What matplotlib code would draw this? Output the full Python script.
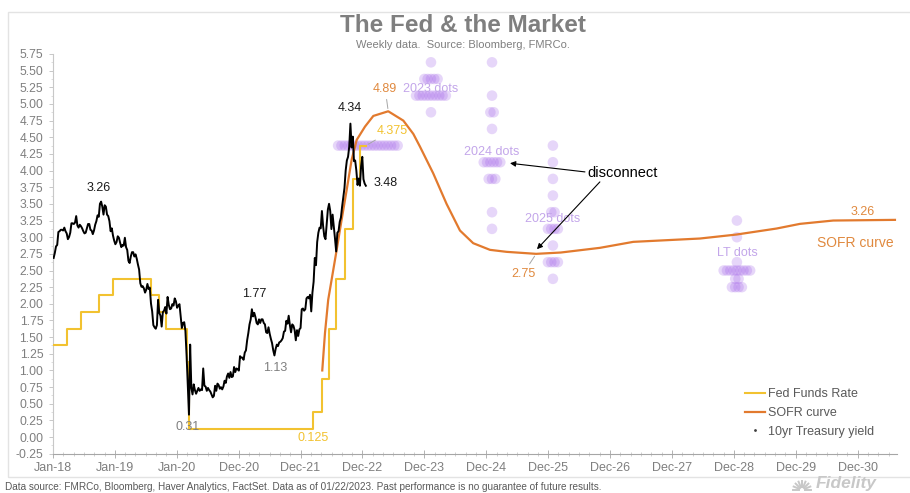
import numpy as np
import pandas as pd
import matplotlib
matplotlib.use("Agg")
import matplotlib.pyplot as plt
import matplotlib.dates as mdates
from matplotlib.lines import Line2D
from matplotlib.patches import Rectangle
from matplotlib.ticker import FixedLocator, MultipleLocator, FormatStrFormatter

plt.rcParams['font.family'] = ['Liberation Sans', 'DejaVu Sans']

# ---------------------------------------------------------------- data
# 10-year Treasury yield, weekly (Friday), %
ust_2018 = [2.48, 2.55, 2.64, 2.66, 2.84, 2.85, 2.87, 2.87, 2.86, 2.90, 2.85, 2.82, 2.74,
            2.77, 2.83, 2.96, 2.96, 2.95, 2.97, 3.06, 2.93, 2.90, 2.94, 2.92, 2.89, 2.85,
            2.82, 2.83, 2.89, 2.95, 2.95, 2.87, 2.86, 2.81, 2.86, 2.94, 2.99, 3.07, 3.05,
            3.23, 3.26, 3.19, 3.08, 3.21, 3.19, 3.08, 3.06, 2.99, 2.85, 2.89, 2.79, 2.72]
ust_2019 = [2.67, 2.70, 2.78, 2.76, 2.69, 2.63, 2.66, 2.65, 2.76, 2.63, 2.59, 2.44, 2.41,
            2.50, 2.56, 2.56, 2.50, 2.53, 2.47, 2.39, 2.32, 2.13, 2.08, 2.09, 2.06, 2.00,
            2.04, 2.12, 2.05, 2.07, 1.85, 1.74, 1.55, 1.52, 1.50, 1.55, 1.90, 1.72, 1.68,
            1.53, 1.73, 1.75, 1.80, 1.71, 1.94, 1.83, 1.77, 1.78, 1.84, 1.82, 1.92, 1.88]
ust_2020 = [1.79, 1.82, 1.84, 1.68, 1.51, 1.58, 1.59, 1.47, 1.13, 0.71, 0.31, 1.28, 0.68,
            0.59, 0.73, 0.65, 0.60, 0.64, 0.68, 0.64, 0.66, 0.65, 0.95, 0.71, 0.70, 0.64,
            0.68, 0.65, 0.63, 0.59, 0.55, 0.57, 0.71, 0.64, 0.74, 0.72, 0.67, 0.69, 0.66,
            0.70, 0.78, 0.75, 0.84, 0.88, 0.82, 0.90, 0.83, 0.84, 0.97, 0.90, 0.95, 0.94]
ust_2021 = [0.92, 1.12, 1.10, 1.10, 1.07, 1.17, 1.20, 1.34, 1.44, 1.56, 1.63, 1.77, 1.67,
            1.72, 1.66, 1.58, 1.56, 1.63, 1.58, 1.63, 1.63, 1.58, 1.56, 1.45, 1.44, 1.52,
            1.43, 1.36, 1.30, 1.20, 1.13, 1.22, 1.28, 1.26, 1.31, 1.32, 1.34, 1.37, 1.46,
            1.47, 1.61, 1.57, 1.68, 1.55, 1.45, 1.56, 1.54, 1.48, 1.34, 1.48, 1.40, 1.49, 1.51]
ust_2022 = [1.77, 1.78, 1.75, 1.77, 1.92, 1.94, 1.92, 1.97, 1.74, 2.00, 2.15, 2.48,
            2.38, 2.70, 2.83, 2.90, 2.89, 3.13, 2.92, 2.78, 2.74, 2.94, 3.15, 3.23, 3.13,
            2.88, 3.08, 2.92, 2.75, 2.57, 2.83, 2.85, 2.98, 3.04, 3.19, 3.32, 3.45, 3.69,
            3.83, 3.88, 4.02, 4.34, 4.01, 4.16, 3.82, 3.83, 3.69, 3.49, 3.58, 3.48, 3.75, 3.88]
ust_2023 = [3.57, 3.51, 3.48]
ust_start = "2018-01-05"

# Fed funds target range midpoint, %
fed_dates = ["2018-01-01", "2018-03-22", "2018-06-14", "2018-09-27", "2018-12-20",
             "2019-08-01", "2019-09-19", "2019-10-31", "2020-03-04", "2020-03-16",
             "2022-03-17", "2022-05-05", "2022-06-16", "2022-07-28", "2022-09-22",
             "2022-11-03", "2022-12-15", "2023-01-20"]
fed_rates = [1.375, 1.625, 1.875, 2.125, 2.375, 2.125, 1.875, 1.625, 1.125, 0.125,
             0.375, 0.875, 1.625, 2.375, 3.125, 3.875, 4.375, 4.375]

# SOFR curve, %
sofr_dates = ["2022-05-08", "2022-05-24", "2022-06-12", "2022-07-02", "2022-08-01",
              "2022-08-30", "2022-09-29", "2022-10-28", "2022-11-27", "2023-01-15",
              "2023-03-05", "2023-06-01", "2023-08-29", "2023-10-27", "2023-12-05",
              "2024-02-21", "2024-05-10", "2024-07-28", "2024-10-14", "2025-01-21",
              "2025-04-29", "2025-10-20", "2026-03-15", "2026-10-31", "2027-05-16",
              "2028-06-12", "2029-01-14", "2029-09-07", "2030-01-23", "2030-08-07",
              "2031-08-06"]
sofr_rates = [1.00, 1.56, 2.06, 2.36, 2.81, 3.26, 3.71, 4.16, 4.46, 4.66,
              4.82, 4.89, 4.75, 4.55, 4.36, 3.96, 3.50, 3.10, 2.91, 2.81,
              2.78, 2.75, 2.77, 2.84, 2.93, 2.98, 3.04, 3.13, 3.20, 3.25,
              3.26]

# FOMC projections (dot plot)
dot_groups = ["2022", "2023", "2024", "2025", "LT"]
dot_centers = ["2023-02-01", "2024-02-08", "2025-02-02", "2026-01-27", "2029-01-16"]
dot_levels = [[4.375],
              [5.625, 5.375, 5.125, 4.875],
              [5.625, 5.125, 4.875, 4.625, 4.125, 3.875, 3.375, 3.125],
              [4.375, 4.125, 3.875, 3.625, 3.375, 3.125, 2.875, 2.625, 2.375],
              [3.25, 3.0, 2.625, 2.5, 2.375, 2.25]]
dot_counts = [[19],
              [1, 5, 10, 1],
              [1, 1, 2, 1, 6, 3, 1, 1],
              [1, 1, 1, 1, 2, 4, 1, 4, 1],
              [1, 1, 1, 9, 2, 4]]

x_ticks_start = "2018-01-01"
x_end = "2031-08-18"

# ---------------------------------------------------------------- styling
YELLOW = "#F2C230"
ORANGE = "#E27A2E"
ORANGE_TXT = "#E0893E"
PURPLE = "#A86CEA"
PURPLE_TXT = "#C3A6EA"
GREY = "#7F7F7F"
LEADER = "#A6A6A6"
UST_SCALE = 1.084          # treasury drawn on its own (hidden) axis
DOT_STEP_DAYS = 19.5

fig = plt.figure(figsize=(9.1, 4.93), dpi=100)
fig.patch.set_facecolor("white")
fig.add_artist(Rectangle((8 / 910, 1 - 477 / 493), 1.0, (477 - 12) / 493,
                         transform=fig.transFigure, fill=False,
                         edgecolor="#E3E3E3", lw=1.0))

ax = fig.add_axes([0.0582, 0.0797, 0.9275, 0.8108])
ax2 = ax.twinx()

# dots
for center, levels, counts in zip(dot_centers, dot_levels, dot_counts):
    c = mdates.date2num(pd.Timestamp(center))
    for lvl, n in zip(levels, counts):
        xs = c + (np.arange(n) - (n - 1) / 2) * DOT_STEP_DAYS
        ax.scatter(xs, np.full(n, lvl), s=58, color=PURPLE, alpha=0.28,
                   edgecolors="none", zorder=1)

# Fed funds
fed_x = mdates.date2num(pd.to_datetime(fed_dates))
ax.step(fed_x, fed_rates, where="post", color=YELLOW, lw=1.5, zorder=3)

# SOFR curve
sofr_x = mdates.date2num(pd.to_datetime(sofr_dates))
ax.plot(sofr_x, sofr_rates, color=ORANGE, lw=1.6, zorder=4)

# 10yr Treasury
ust_values = ust_2018 + ust_2019 + ust_2020 + ust_2021 + ust_2022 + ust_2023
ust_idx = pd.date_range(ust_start, periods=len(ust_values), freq="W-FRI")
ust = pd.Series(ust_values, index=ust_idx)
ax2.plot(mdates.date2num(ust.index), ust.values, color="black", lw=1.4, zorder=5)

# axes
t0 = pd.Timestamp(x_ticks_start)
majors = [mdates.date2num(t0 + pd.Timedelta(days=365 * k)) for k in range(14)]
minors = [mdates.date2num(t0 + pd.Timedelta(days=365 * k / 6)) for k in range(6 * 14)]
ax.set_xlim(mdates.date2num(t0), mdates.date2num(pd.Timestamp(x_end)))
ax.set_ylim(-0.25, 5.75)
ax2.set_ylim(-0.25 / UST_SCALE, 5.75 / UST_SCALE)
ax.xaxis.set_major_locator(FixedLocator(majors))
ax.xaxis.set_minor_locator(FixedLocator(minors))
ax.xaxis.set_major_formatter(mdates.DateFormatter("%b-%y"))
ax.yaxis.set_major_locator(MultipleLocator(0.25))
ax.yaxis.set_minor_locator(MultipleLocator(0.125))
ax.yaxis.set_major_formatter(FormatStrFormatter("%.2f"))

for s in ["top", "right"]:
    ax.spines[s].set_visible(False)
ax.spines["left"].set_color("#C8C8C8")
ax.spines["bottom"].set_color("#A6A6A6")
ax.tick_params(axis="y", which="major", direction="out", length=3, width=0.6,
               color="#BFBFBF", labelsize=8.7, labelcolor=GREY, pad=4)
ax.tick_params(axis="y", which="minor", direction="out", length=1.5, width=0.5,
               color="#D0D0D0")
ax.tick_params(axis="x", which="major", direction="inout", length=6, width=0.6,
               color="#A6A6A6", labelsize=9, labelcolor=GREY, pad=3)
ax.tick_params(axis="x", which="minor", direction="inout", length=3, width=0.5,
               color="#BFBFBF")
ax2.set_axis_off()

# ---------------------------------------------------------------- labels
def tag(axis, x, y, text, dx, dy, color, ha="center", leader=False, size=9, weight="normal"):
    kw = dict(xy=(x, y), xytext=(dx, dy), textcoords="offset pixels",
              ha=ha, va="center", color=color, fontsize=size, fontweight=weight, zorder=6)
    if leader:
        kw["arrowprops"] = dict(arrowstyle="-", color=LEADER, lw=0.7, shrinkA=1, shrinkB=2)
    axis.annotate(text, **kw)

def num(t):
    return mdates.date2num(t)

p18 = ust["2018"].idxmax()
tag(ax2, num(p18), ust[p18], f"{ust[p18]:.2f}", -2, 14, "#1A1A1A")
pk = ust.idxmax()
tag(ax2, num(pk), ust[pk], f"{ust[pk]:.2f}", -1, 16, "#1A1A1A")
last = ust.index[-1]
tag(ax2, num(last), ust[last], f"{ust[last]:.2f}", 8, 3, "#1A1A1A", ha="left")
p21 = ust["2021"].idxmax()
tag(ax2, num(p21), ust[p21], f"{ust[p21]:.2f}", 2, 15, "#1A1A1A")
t21 = ust["2021-05":"2021-12"].idxmin()
tag(ax2, num(t21), ust[t21], f"{ust[t21]:.2f}", 1, -13, GREY)
lo = ust.idxmin()
tag(ax2, num(lo), ust[lo], f"{ust[lo]:.2f}", -1, -12, GREY)

# Fed funds labels
i_hike = fed_rates.index(0.375)
tag(ax, fed_x[i_hike], fed_rates[i_hike - 1], f"{fed_rates[i_hike - 1]:g}", 0, -9, YELLOW)
tag(ax, fed_x[-1], fed_rates[-1], f"{fed_rates[-1]:g}", 26, 15, YELLOW, leader=True)

# SOFR labels: peak, trough after the peak, and the end of the curve
i_max = int(np.argmax(sofr_rates))
tag(ax, sofr_x[i_max], sofr_rates[i_max], f"{sofr_rates[i_max]:.2f}", -3, 22, ORANGE_TXT, leader=True)
i_min = i_max + int(np.argmin(sofr_rates[i_max:]))
tag(ax, sofr_x[i_min], sofr_rates[i_min], f"{sofr_rates[i_min]:.2f}", -13, -20, ORANGE_TXT, leader=True)
tag(ax, sofr_x[-1], sofr_rates[-1], f"{sofr_rates[-1]:.2f}", -32, 8, ORANGE_TXT)
tag(ax, sofr_x[-1], sofr_rates[-1], "SOFR curve", -40, -23, ORANGE_TXT, size=10)

# dot plot labels
dot_label_y = {"2023": 5.225, "2024": 4.28, "2025": 3.27, "LT": 2.76}
for g, center in zip(dot_groups, dot_centers):
    if g in dot_label_y:
        ax.text(num(pd.Timestamp(center)), dot_label_y[g], f"{g} dots", ha="center",
                va="center", color=PURPLE_TXT, fontsize=9, zorder=6)

ax.text(num(pd.Timestamp("2027-03-15")), 3.96, "disconnect", ha="center", va="center",
        fontsize=10.5, color="black", zorder=6)
arrow = dict(arrowstyle="-|>", color="black", lw=0.8, mutation_scale=8, shrinkA=0, shrinkB=0)
ax.annotate("", xy=(num(pd.Timestamp("2025-05-19")), 4.11),
            xytext=(num(pd.Timestamp("2026-08-04")), 3.98), arrowprops=arrow, zorder=6)
ax.annotate("", xy=(num(pd.Timestamp("2025-10-25")), 2.82),
            xytext=(num(pd.Timestamp("2026-10-31")), 3.83), arrowprops=arrow, zorder=6)

# legend
handles = [Line2D([], [], color=YELLOW, lw=1.5),
           Line2D([], [], color=ORANGE, lw=1.6),
           Line2D([], [], color="#404040", ls="none", marker=".", markersize=2)]
fig.legend(handles, ["Fed Funds Rate", "SOFR curve", "10yr Treasury yield"],
           loc="upper left", bbox_to_anchor=(745 / 910, 1 - 388 / 493),
           frameon=False, fontsize=9, labelcolor="#595959", handlelength=1.6,
           handletextpad=0.2, labelspacing=0.55, borderpad=0, borderaxespad=0)

# titles and footer
fig.text(463 / 910, 1 - 26 / 493, "The Fed & the Market", ha="center", va="center",
         fontsize=17.5, fontweight="bold", color=GREY)
fig.text(463 / 910, 1 - 45 / 493, "Weekly data.  Source: Bloomberg, FMRCo.", ha="center",
         va="center", fontsize=8, color=GREY)
fig.text(5 / 910, 1 - 487 / 493,
         "Data source: FMRCo, Bloomberg, Haver Analytics, FactSet. Data as of 01/22/2023. "
         "Past performance is no guarantee of future results.",
         ha="left", va="center", fontsize=7.2, color="#595959")

# logo
fig.text(816 / 910, 1 - 491 / 493, "Fidelity", ha="left", va="bottom", fontsize=12.5,
         fontweight="bold", fontstyle="italic", color="#C8C8C8")
cx, cy, r = 802, 490, 9
for a in np.linspace(0, np.pi, 9):
    fig.add_artist(Line2D([(cx + 3 * np.cos(a)) / 910, (cx + r * np.cos(a)) / 910],
                          [1 - (cy - 3 * np.sin(a)) / 493, 1 - (cy - r * np.sin(a)) / 493],
                          transform=fig.transFigure, color="#C8C8C8", lw=1.4))

fig.savefig("out.png", dpi=100, facecolor="white")
